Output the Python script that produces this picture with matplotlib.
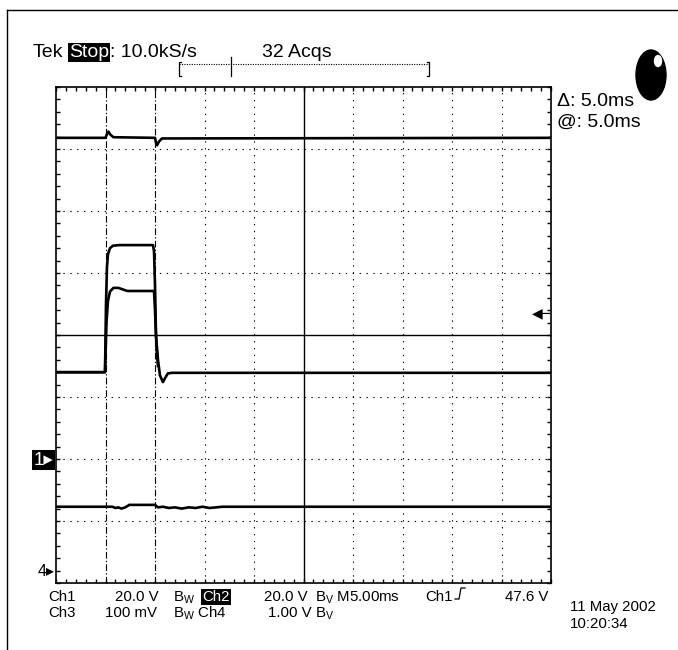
import matplotlib
matplotlib.use('Agg')
import matplotlib.pyplot as plt
from matplotlib.patches import Ellipse
from matplotlib.lines import Line2D
import matplotlib.transforms as mtransforms

plt.rcParams['font.family'] = ['Liberation Sans', 'DejaVu Sans']
plt.rcParams['mathtext.fontset'] = 'custom'
plt.rcParams['mathtext.rm'] = 'Liberation Sans'

W, H = 678, 650

# time in ms (M5.00ms -> 5 ms/div), level in screen divisions (0 = centre)
top_t = [0, 5.0, 5.15, 5.3, 5.5, 5.8, 10.0, 10.1, 10.2, 10.4, 10.7, 50]
top_v = [3.18, 3.18, 3.24, 3.28, 3.23, 3.19, 3.18, 3.1, 3.06, 3.12, 3.17, 3.18]

outer_t = [0, 4.95, 5.05, 5.15, 5.25, 5.45, 5.75, 6.4, 9.8, 9.9, 10.0, 10.1, 10.3,
           10.5, 10.8, 11.0, 11.3, 11.7, 50]
outer_v = [-0.6, -0.6, 0.5, 1.1, 1.3, 1.4, 1.44, 1.45, 1.45, 1.35, 0.8, 0.0, -0.4,
           -0.65, -0.76, -0.7, -0.62, -0.61, -0.61]

inner_t = [0, 4.95, 5.1, 5.25, 5.45, 5.8, 6.3, 7.2, 9.9, 10.0, 10.15, 10.3]
inner_v = [-0.6, -0.6, 0.2, 0.55, 0.7, 0.76, 0.76, 0.71, 0.71, 0.4, -0.2, -0.5]

bottom_t = [0, 5.7, 6.0, 6.3, 6.6, 7.0, 7.4, 10.0, 10.3, 10.8, 11.4, 12.0, 12.7,
            13.4, 14.1, 14.8, 15.5, 16.2, 16.8, 50]
bottom_v = [-2.77, -2.77, -2.79, -2.78, -2.8, -2.78, -2.74, -2.74, -2.78, -2.77,
            -2.79, -2.78, -2.8, -2.78, -2.79, -2.77, -2.79, -2.78, -2.77, -2.77]

cursor_t = [5.0, 10.0]
grid_t = [5, 10, 15, 20, 25, 30, 35, 40, 45]
grid_v = [-3, -2, -1, 0, 1, 2, 3]
ch1_ref, ch4_ref, trig_level = -2.02, -3.82, 0.35

fig = plt.figure(figsize=(W / 100, H / 100), dpi=100)
ax = fig.add_axes([56 / W, 1 - 583 / H, 495 / W, 496 / H])
ax.set_xlim(0, 50)
ax.set_ylim(-4, 4)

for g in grid_t:
    if g in cursor_t:
        ax.axvline(g, color='black', lw=0.8, ls=(0, (6, 2, 1.2, 2)))
    elif g == 25:
        ax.axvline(g, color='black', lw=1.0)
    else:
        ax.axvline(g, color='black', lw=0.8, ls=(0, (1.2, 5)))
for g in grid_v:
    if g == 0:
        ax.axhline(g, color='black', lw=1.0)
    else:
        ax.axhline(g, color='black', lw=0.8, ls=(0, (1.2, 5)))

for tt, vv in [(top_t, top_v), (outer_t, outer_v), (inner_t, inner_v), (bottom_t, bottom_v)]:
    ax.plot(tt, vv, color='black', lw=1.9, solid_joinstyle='round')

ax.set_xticks(range(0, 51, 5))
ax.set_xticks(range(0, 51, 1), minor=True)
ax.set_yticks(range(-4, 5))
ax.set_yticks([i * 0.2 for i in range(-20, 21)], minor=True)
ax.tick_params(which='both', direction='in', length=3.2, width=1, top=True, right=True,
               labelbottom=False, labelleft=False)
for s in ax.spines.values():
    s.set_linewidth(1.2)

# channel markers
blend = mtransforms.blended_transform_factory(ax.transAxes, ax.transData)
ax.text(-0.006, ch1_ref, '1\u25b8', transform=blend, ha='right', va='center', color='white',
        fontsize=13.5, bbox=dict(facecolor='black', edgecolor='none', pad=1.2), clip_on=False)
ax.text(-0.002, ch4_ref, '4\u25b8', transform=blend, ha='right', va='center', fontsize=11.5,
        clip_on=False)
ax.text(0.999, trig_level, '\u25c0\u2500', transform=blend, ha='right', va='center',
        fontsize=10, clip_on=False, family=['DejaVu Sans'])


def ftext(x, y, s, **kw):
    return fig.text(x / W, 1 - y / H, s, **kw)


# frame around screen capture
fig.add_artist(Line2D([7 / W, 1], [1 - 10 / H, 1 - 10 / H], color='black', lw=1))
fig.add_artist(Line2D([7 / W, 7 / W], [0, 1 - 10 / H], color='black', lw=1))

big = 14
ftext(33, 57, 'Tek', fontsize=big)
ftext(69, 57, 'Stop', fontsize=big, color='white',
      bbox=dict(facecolor='black', edgecolor='none', pad=1))
ftext(110, 57, ': 10.0kS/s', fontsize=big)
ftext(262, 57, '32 Acqs', fontsize=big)

# record bracket
by0, by1, byl = 62, 76, 64
fig.add_artist(Line2D([181 / W, 179 / W, 179 / W, 181 / W],
                      [1 - by0 / H, 1 - by0 / H, 1 - by1 / H, 1 - by1 / H], color='black', lw=0.9))
fig.add_artist(Line2D([427 / W, 429 / W, 429 / W, 427 / W],
                      [1 - by0 / H, 1 - by0 / H, 1 - by1 / H, 1 - by1 / H], color='black', lw=0.9))
fig.add_artist(Line2D([179 / W, 429 / W], [1 - byl / H, 1 - byl / H], color='black', lw=0.8,
                      ls=(0, (1, 1.2))))
fig.add_artist(Line2D([231 / W, 231 / W], [1 - 57 / H, 1 - 76 / H], color='black', lw=0.9))

# run indicator
fig.add_artist(Ellipse((651 / W, 1 - 75 / H), 30 / W, 50 / H, color='black'))
fig.add_artist(Ellipse((658 / W, 1 - 61 / H), 7 / W, 11 / H, color='white'))

ftext(557, 106, '\u0394: 5.0ms', fontsize=big)
ftext(557, 127, '@: 5.0ms', fontsize=big)

sm = 10.8
r1, r2 = 601, 617
ftext(48, r1, 'Ch1', fontsize=sm)
ftext(115, r1, '20.0 V', fontsize=sm)
ftext(173, r1, r'B$_{\mathrm{W}}$', fontsize=sm)
ftext(202, r1, 'Ch2', fontsize=sm, color='white',
      bbox=dict(facecolor='black', edgecolor='none', pad=1.0))
ftext(264, r1, '20.0 V', fontsize=sm)
ftext(315, r1, r'B$_{\mathrm{V}}$ M5.00ms', fontsize=sm)
ftext(425, r1, 'Ch1', fontsize=sm)
fig.add_artist(Line2D([455 / W, 459 / W, 461 / W, 465 / W],
                      [1 - 599 / H, 1 - 599 / H, 1 - 588 / H, 1 - 588 / H], color='black', lw=0.9))
ftext(505, r1, '47.6 V', fontsize=sm)

ftext(48, r2, 'Ch3', fontsize=sm)
ftext(105, r2, '100 mV', fontsize=sm)
ftext(173, r2, r'B$_{\mathrm{W}}$ Ch4', fontsize=sm)
ftext(268, r2, '1.00 V', fontsize=sm)
ftext(315, r2, r'B$_{\mathrm{V}}$', fontsize=sm)

ftext(570, 611, '11 May 2002', fontsize=sm)
ftext(570, 628, '10:20:34', fontsize=sm)

fig.savefig('out.png', dpi=100)
